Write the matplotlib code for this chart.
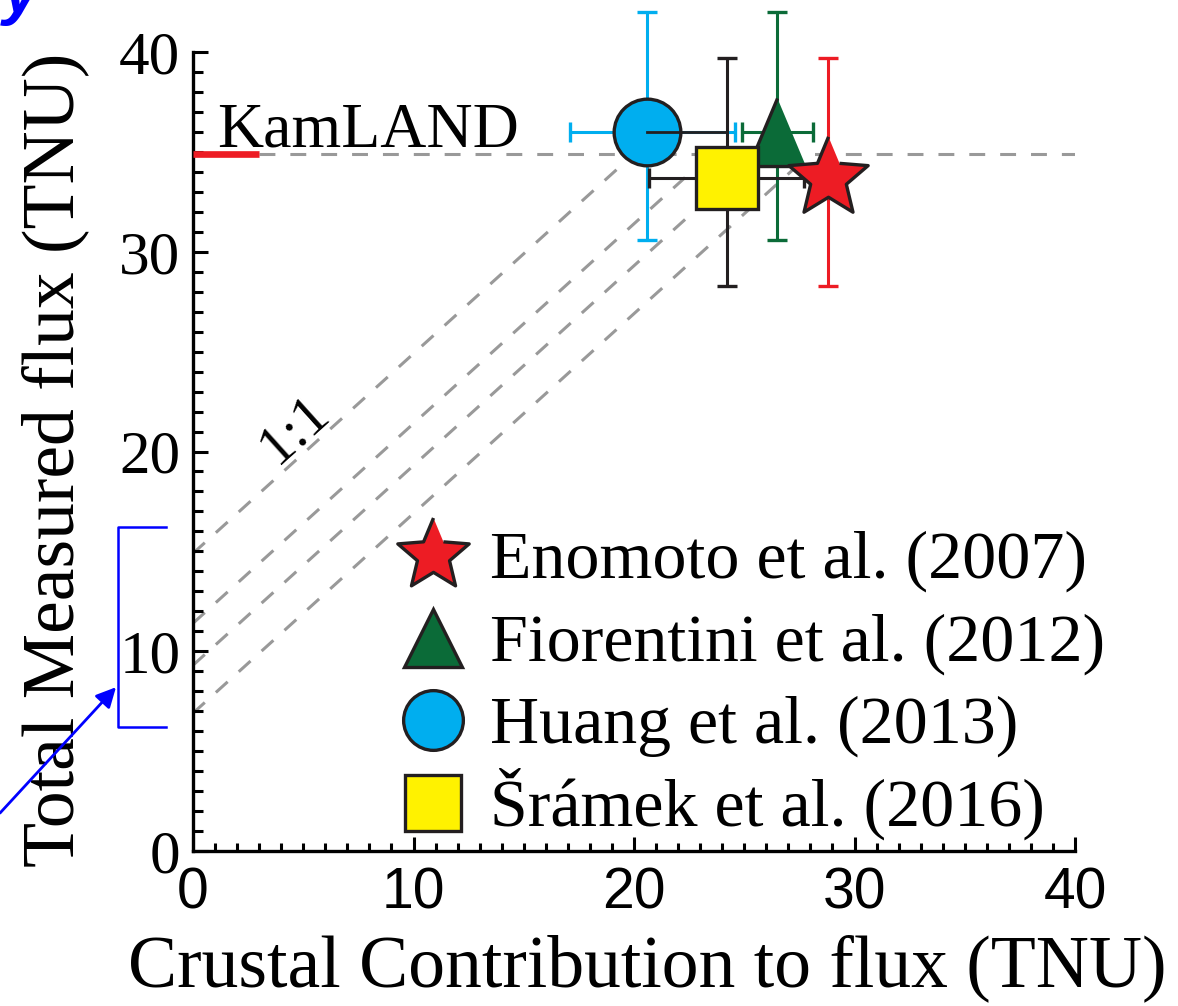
import numpy as np
import matplotlib.pyplot as plt
from matplotlib.ticker import MultipleLocator
from matplotlib.transforms import blended_transform_factory

plt.rcParams['font.family'] = ['Liberation Serif', 'DejaVu Serif']

# crustal contribution (x) vs total measured flux (y), TNU
models = ['Enomoto et al. (2007)', 'Fiorentini et al. (2012)',
          'Huang et al. (2013)', 'Šrámek et al. (2016)']
crust = [28.8, 26.5, 20.6, 24.2]
crust_lo = [0.0, 1.6, 3.5, 3.5]
crust_hi = [0.0, 1.6, 4.0, 3.5]
total = [33.7, 36.0, 36.0, 33.7]
total_lo = [5.4, 5.4, 5.4, 5.4]
total_hi = [6.0, 6.0, 6.0, 6.0]

kamland = 34.9
kamland_bar = [0.0, 3.0]
mantle_offsets = [14.9, 11.4, 9.3, 6.9]   # intercepts of the 1:1 lines
mantle_range = [6.2, 16.2]
arrow_y = [1.9, 8.2]

dark = '#231F20'
fills = ['#ED1C24', '#0B6B38', '#00AEEF', '#FFF200']
bar_colors = ['#ED1C24', '#0B6B38', '#00AEEF', dark]

# marker shapes
ang = np.deg2rad(90 + 36 * np.arange(10))
rad = np.where(np.arange(10) % 2 == 0, 1.0, 0.45)
star = list(zip(rad * np.cos(ang), rad * np.sin(ang)))
tri = [(0, 1), (-0.84, -1), (0.84, -1)]
markers = [star, tri, 'o', 's']
sizes = [60, 49, 48, 45]
key_markers = [star, '^', 'o', 's']
key_sizes = [54, 42, 43, 41]

W, H = 1178, 1006
fig = plt.figure(figsize=(W / 100, H / 100), dpi=100)
ax = fig.add_axes([193 / W, 1 - 851 / H, 882 / W, 799 / H])

grey = '#999999'
dash = (5.2, 4.9)
ax.plot([kamland_bar[1], 40], [kamland, kamland], color=grey, lw=2.2,
        dashes=dash, zorder=1)
for b in mantle_offsets:
    xe = kamland - b
    ax.plot([0, xe], [b, kamland], color=grey, lw=2.2, dashes=dash, zorder=1)
ax.plot(kamland_bar, [kamland, kamland], color='#ED1C24', lw=4.8,
        solid_capstyle='butt', zorder=3, clip_on=False)

# draw back to front: Huang, Fiorentini, Sramek, Enomoto
order = [2, 1, 3, 0]
z = 4
for i in order:
    xerr = None
    if crust_lo[i] > 0 or crust_hi[i] > 0:
        xerr = [[crust_lo[i]], [crust_hi[i]]]
    ax.errorbar([crust[i]], [total[i]], xerr=xerr,
                yerr=[[total_lo[i]], [total_hi[i]]], fmt='none',
                ecolor=bar_colors[i], elinewidth=2.2, capsize=7, capthick=2.4,
                clip_on=False, zorder=z)
    ax.plot([crust[i]], [total[i]], marker=markers[i], ms=sizes[i],
            mfc=fills[i], mec=dark, mew=2.4, ls='none', clip_on=False,
            zorder=z + 1)
    if i == 2:
        ax.plot([crust[2], crust[3]], [total[2], total[2]], color=dark, lw=2,
                zorder=z + 1.5, clip_on=False)
    z += 2

ax.text(1.1, 35.25, 'KamLAND', fontsize=46, va='baseline', ha='left')
ax.text(4.6, 21.1, '1:1', fontsize=41, rotation=42, rotation_mode='anchor',
        ha='center', va='center')

# key: one row per model
for k in range(4):
    yc = 1 - (555 + 82.5 * k) / H
    ax.plot([433 / W], [yc], marker=key_markers[k], ms=key_sizes[k],
            mfc=fills[k], mec=dark, mew=2.4, ls='none',
            transform=fig.transFigure, clip_on=False, zorder=20)
    fig.text(490 / W, yc - 23 / H, models[k], fontsize=49, va='baseline')

ax.set_xlim(0, 40)
ax.set_ylim(0, 40)
ax.xaxis.set_major_locator(MultipleLocator(10))
ax.yaxis.set_major_locator(MultipleLocator(10))
ax.xaxis.set_minor_locator(MultipleLocator(1))
ax.yaxis.set_minor_locator(MultipleLocator(1))
ax.tick_params(axis='y', which='major', direction='in', length=11, width=2.2,
               labelsize=44, pad=9)
ax.tick_params(axis='y', which='minor', direction='in', length=7, width=2.2)
ax.tick_params(axis='x', which='major', direction='in', length=10, width=2.2,
               labelsize=41, pad=11,
               labelfontfamily=['Liberation Sans Narrow', 'Liberation Sans'])
ax.tick_params(axis='x', which='minor', direction='in', length=6, width=2.2)
for s in ['top', 'right']:
    ax.spines[s].set_visible(False)
for s in ['left', 'bottom']:
    ax.spines[s].set_linewidth(2.4)

ax.set_xlabel('Crustal Contribution to flux (TNU)', fontsize=53, va='center')
ax.set_ylabel('Total Measured flux (TNU)', fontsize=53, va='center')
ax.xaxis.set_label_coords(0.515, -0.147)
ax.yaxis.set_label_coords(-0.156, 0.489)

# mantle bracket and arrow left of the axis
tr = blended_transform_factory(fig.transFigure, ax.transData)
bx0, bx1 = 118 / W, 166 / W
ax.plot([bx1, bx0, bx0, bx1], [mantle_range[1], mantle_range[1], mantle_range[0], mantle_range[0]],
        color='blue', lw=1.8, transform=tr, clip_on=False)
ax.annotate('', xy=(116 / W, arrow_y[1]), xycoords=tr,
            xytext=(0.0, arrow_y[0]), textcoords=tr,
            arrowprops=dict(arrowstyle='-|>', color='blue', lw=2,
                            mutation_scale=30, shrinkA=0, shrinkB=0))

fig.text(0.002, 1 - 12 / H, 'y', color='blue', fontsize=48, fontweight='bold',
         fontstyle='italic', family=['Liberation Sans', 'DejaVu Sans'], va='baseline')

fig.savefig('out.png', dpi=100)
